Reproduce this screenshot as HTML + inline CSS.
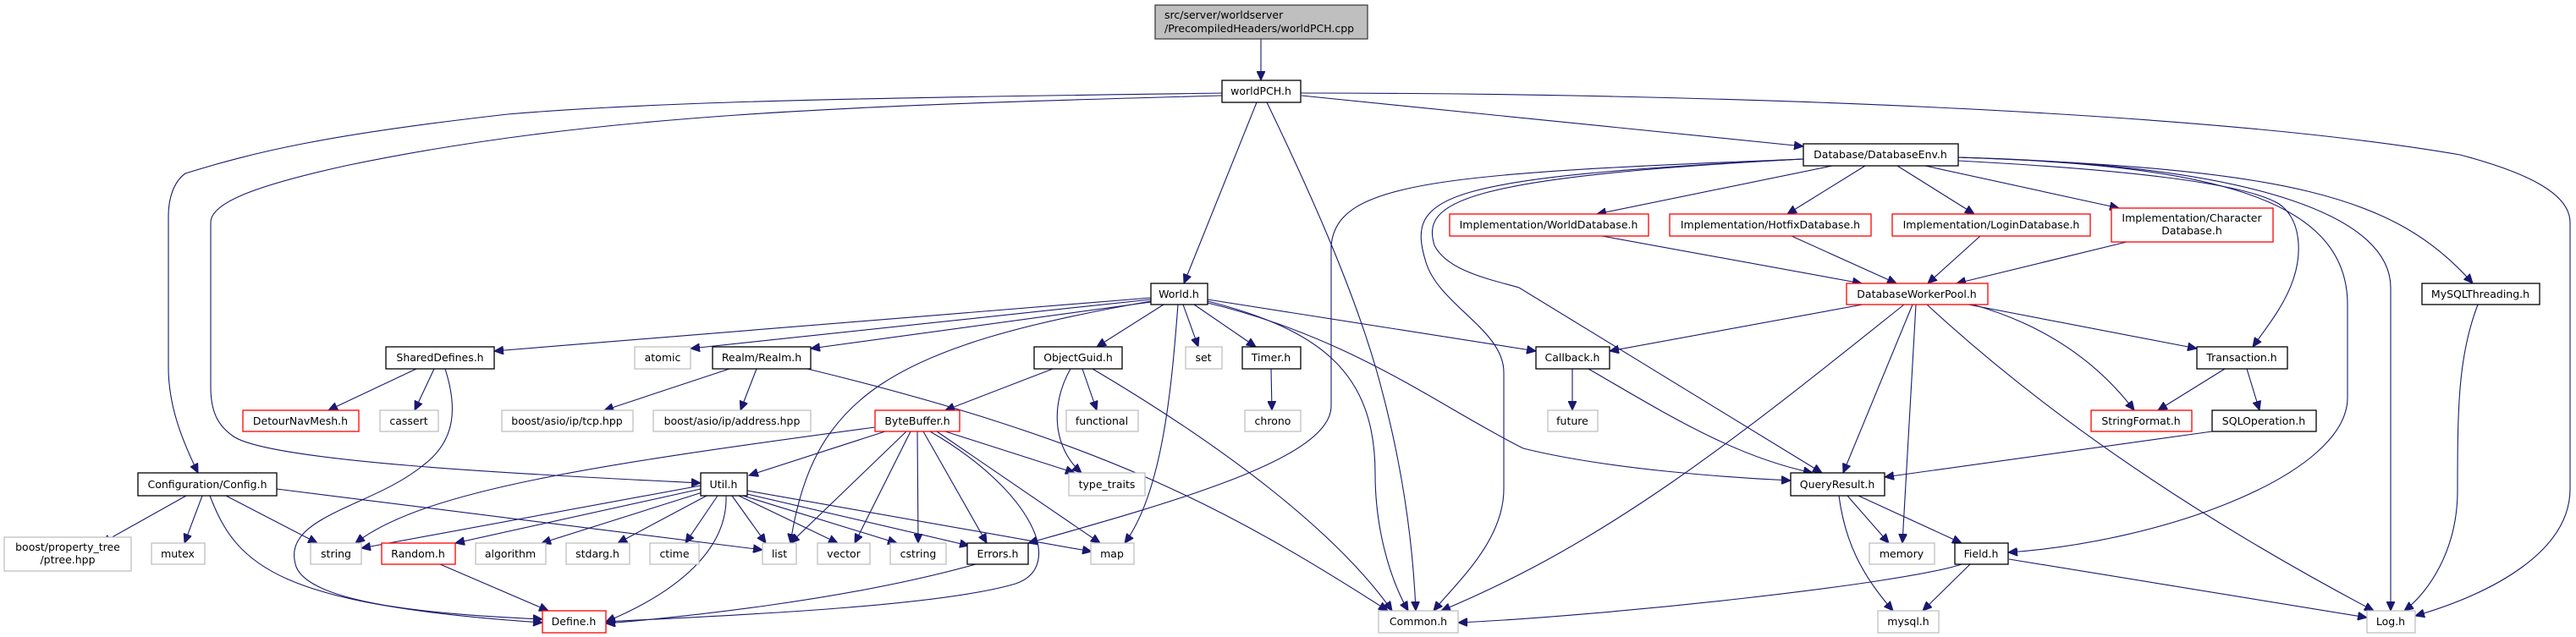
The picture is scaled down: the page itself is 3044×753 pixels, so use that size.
<!DOCTYPE html>
<html><head><meta charset="utf-8"><style>
html,body{margin:0;padding:0;background:#fff;}
svg{display:block;}
text{font-family:"DejaVu Sans","Liberation Sans",sans-serif;font-size:12.5px;fill:#000;}
.b{fill:#fff;stroke:#000;stroke-width:1.3;}
.g{fill:#fff;stroke:#bfbfbf;stroke-width:1.3;}
.r{fill:#fff;stroke:#ff0000;stroke-width:1.3;}
.e path{fill:none;stroke:#191970;stroke-width:1.1;}
</style></head><body>
<svg width="3044" height="753" viewBox="0 0 3044 753" xmlns="http://www.w3.org/2000/svg">
<defs><marker id="a" markerUnits="userSpaceOnUse" markerWidth="12" markerHeight="10" refX="11" refY="5" orient="auto"><path d="M0,0 L11,5 L0,10 Z" fill="#191970" stroke="#191970"/></marker></defs>
<g class="e" marker-end="url(#a)">
<path d="M1490,46 L1490,95" marker-end="url(#a)"/>
<path d="M1444,110 C1100,115 800,118 600,135 C380,160 300,180 219,205 C205,215 199,235 199,255 L199,434 C199,480 215,520 234,559" marker-end="url(#a)"/>
<path d="M1444,113 C1000,125 700,135 408,196 C300,220 249,240 249,263 L249,458 C249,490 260,505 276,516 C320,545 600,560 828,571" marker-end="url(#a)"/>
<path d="M1485,121 L1399,335" marker-end="url(#a)"/>
<path d="M1497,121 C1540,210 1600,340 1630,450 C1660,560 1670,650 1673,722" marker-end="url(#a)"/>
<path d="M1538,113 L2131,173" marker-end="url(#a)"/>
<path d="M1537,110 C2000,110 2600,130 2907,183 C2990,205 3037,230 3037,263 L3037,578 C3037,650 2950,700 2854,728" marker-end="url(#a)"/>
<path d="M2165,196 L1887,253" marker-end="url(#a)"/>
<path d="M2204,196 L2112,253" marker-end="url(#a)"/>
<path d="M2242,196 L2333,253" marker-end="url(#a)"/>
<path d="M2275,196 L2504,246" marker-end="url(#a)"/>
<path d="M2314,190 C2500,200 2650,215 2693,241 C2720,260 2720,300 2710,330 C2700,360 2680,385 2662,410" marker-end="url(#a)"/>
<path d="M2314,186 C2600,195 2774,230 2774,360 L2774,470 C2774,560 2560,640 2373,653" marker-end="url(#a)"/>
<path d="M2314,186 C2680,195 2825,260 2825,340 L2825,722" marker-end="url(#a)"/>
<path d="M2314,186 C2700,200 2830,230 2922,335" marker-end="url(#a)"/>
<path d="M2131,188 C1700,205 1580,215 1573,290 L1573,480 C1573,540 1400,590 1215,642" marker-end="url(#a)"/>
<path d="M2131,188 C1700,210 1660,230 1685,310 C1700,360 1777,390 1777,440 L1777,578 C1777,640 1720,690 1694,722" marker-end="url(#a)"/>
<path d="M2131,188 C1720,210 1680,240 1695,290 C1710,320 1760,330 1795,340 L2153,559" marker-end="url(#a)"/>
<path d="M1893,279 L2200,335" marker-end="url(#a)"/>
<path d="M2117,279 L2241,335" marker-end="url(#a)"/>
<path d="M2340,279 L2278,335" marker-end="url(#a)"/>
<path d="M2513,286 L2312,335" marker-end="url(#a)"/>
<path d="M2201,360 L1902,415" marker-end="url(#a)"/>
<path d="M2250,360 C2050,520 1900,640 1703,722" marker-end="url(#a)"/>
<path d="M2260,360 L2178,559" marker-end="url(#a)"/>
<path d="M2264,360 L2248,642" marker-end="url(#a)"/>
<path d="M2277,360 C2450,520 2650,640 2805,722" marker-end="url(#a)"/>
<path d="M2326,360 L2596,412" marker-end="url(#a)"/>
<path d="M2331,360 C2420,385 2480,430 2522,485" marker-end="url(#a)"/>
<path d="M1858,436 L1858,485" marker-end="url(#a)"/>
<path d="M1502,436 L1503,485" marker-end="url(#a)"/>
<path d="M1877,436 C1970,490 2050,540 2142,559" marker-end="url(#a)"/>
<path d="M2629,436 L2550,485" marker-end="url(#a)"/>
<path d="M2655,436 L2670,485" marker-end="url(#a)"/>
<path d="M2614,510 L2227,564" marker-end="url(#a)"/>
<path d="M2928,360 C2905,420 2904,480 2904,580 C2904,650 2870,700 2841,722" marker-end="url(#a)"/>
<path d="M2183,586 L2232,642" marker-end="url(#a)"/>
<path d="M2196,586 L2318,642" marker-end="url(#a)"/>
<path d="M2173,586 C2180,640 2200,680 2237,722" marker-end="url(#a)"/>
<path d="M2318,667 C2250,690 1900,728 1723,736" marker-end="url(#a)"/>
<path d="M2328,667 L2272,722" marker-end="url(#a)"/>
<path d="M2374,661 L2797,730" marker-end="url(#a)"/>
<path d="M1360,352 L584,415" marker-end="url(#a)"/>
<path d="M1360,354 L816,412" marker-end="url(#a)"/>
<path d="M1360,357 L958,412" marker-end="url(#a)"/>
<path d="M1360,356 C1050,410 960,470 934,642" marker-end="url(#a)"/>
<path d="M1375,360 L1296,410" marker-end="url(#a)"/>
<path d="M1398,360 L1416,410" marker-end="url(#a)"/>
<path d="M1411,360 L1484,410" marker-end="url(#a)"/>
<path d="M1392,360 C1385,450 1375,580 1329,642" marker-end="url(#a)"/>
<path d="M1427,356 C1560,390 1625,440 1625,560 C1625,620 1640,680 1664,722" marker-end="url(#a)"/>
<path d="M1427,354 L1815,415" marker-end="url(#a)"/>
<path d="M1427,358 C1600,400 1700,480 1800,530 C1900,555 2050,565 2116,568" marker-end="url(#a)"/>
<path d="M492,436 L388,485" marker-end="url(#a)"/>
<path d="M513,436 L490,485" marker-end="url(#a)"/>
<path d="M526,436 C540,480 540,520 500,550 C440,600 330,610 350,670 C370,720 560,728 641,732" marker-end="url(#a)"/>
<path d="M862,436 L714,485" marker-end="url(#a)"/>
<path d="M894,436 L875,485" marker-end="url(#a)"/>
<path d="M954,436 C1300,520 1450,600 1640,722" marker-end="url(#a)"/>
<path d="M1244,436 L1117,485" marker-end="url(#a)"/>
<path d="M1279,436 L1296,485" marker-end="url(#a)"/>
<path d="M1265,436 C1240,480 1245,530 1278,559" marker-end="url(#a)"/>
<path d="M1291,436 C1450,530 1580,630 1645,722" marker-end="url(#a)"/>
<path d="M1046,510 L885,562" marker-end="url(#a)"/>
<path d="M1071,510 L934,642" marker-end="url(#a)"/>
<path d="M1076,510 L1010,642" marker-end="url(#a)"/>
<path d="M1084,510 L1085,642" marker-end="url(#a)"/>
<path d="M1091,510 L1166,642" marker-end="url(#a)"/>
<path d="M1107,510 L1300,642" marker-end="url(#a)"/>
<path d="M1117,510 L1270,559" marker-end="url(#a)"/>
<path d="M1034,505 C700,550 500,580 420,642" marker-end="url(#a)"/>
<path d="M1099,510 C1220,580 1260,670 1200,690 C1100,720 800,730 716,735" marker-end="url(#a)"/>
<path d="M828,574 L427,648" marker-end="url(#a)"/>
<path d="M828,578 L538,642" marker-end="url(#a)"/>
<path d="M830,582 L640,642" marker-end="url(#a)"/>
<path d="M835,586 L730,642" marker-end="url(#a)"/>
<path d="M848,586 L810,642" marker-end="url(#a)"/>
<path d="M865,586 L905,642" marker-end="url(#a)"/>
<path d="M873,586 L990,642" marker-end="url(#a)"/>
<path d="M878,586 L1060,642" marker-end="url(#a)"/>
<path d="M883,584 L1145,645" marker-end="url(#a)"/>
<path d="M883,580 L1290,652" marker-end="url(#a)"/>
<path d="M858,586 C860,650 800,700 716,735" marker-end="url(#a)"/>
<path d="M220,586 L120,642" marker-end="url(#a)"/>
<path d="M239,586 L218,642" marker-end="url(#a)"/>
<path d="M267,586 L375,642" marker-end="url(#a)"/>
<path d="M248,586 C280,670 330,715 641,736" marker-end="url(#a)"/>
<path d="M327,578 L901,650" marker-end="url(#a)"/>
<path d="M520,667 L648,722" marker-end="url(#a)"/>
<path d="M1153,667 C1000,710 800,730 716,737" marker-end="url(#a)"/>
</g>
<g>
<rect x="1365" y="6" width="251" height="40" fill="#bfbfbf" stroke="#404040" stroke-width="1.3"/>
<text x="1376" y="22">src/server/worldserver</text>
<text x="1376" y="38">/PrecompiledHeaders/worldPCH.cpp</text>
<rect class="b" x="1444" y="95" width="93" height="26"/><text x="1490" y="112" text-anchor="middle">worldPCH.h</text>
<rect class="b" x="2131" y="170" width="183" height="26"/><text x="2222" y="187" text-anchor="middle">Database/DatabaseEnv.h</text>
<rect class="r" x="1713" y="253" width="235" height="26"/><text x="1830" y="270" text-anchor="middle">Implementation/WorldDatabase.h</text>
<rect class="r" x="1973" y="253" width="238" height="26"/><text x="2092" y="270" text-anchor="middle">Implementation/HotfixDatabase.h</text>
<rect class="r" x="2236" y="253" width="234" height="26"/><text x="2353" y="270" text-anchor="middle">Implementation/LoginDatabase.h</text>
<rect class="r" x="2495" y="246" width="191" height="40"/><text x="2590" y="262" text-anchor="middle">Implementation/Character</text><text x="2590" y="277" text-anchor="middle">Database.h</text>
<rect class="b" x="1360" y="335" width="67" height="25"/><text x="1393" y="352" text-anchor="middle">World.h</text>
<rect class="r" x="2182" y="335" width="167" height="25"/><text x="2265" y="352" text-anchor="middle">DatabaseWorkerPool.h</text>
<rect class="b" x="2862" y="335" width="139" height="25"/><text x="2931" y="352" text-anchor="middle">MySQLThreading.h</text>
<rect class="b" x="456" y="410" width="128" height="26"/><text x="520" y="427" text-anchor="middle">SharedDefines.h</text>
<rect class="g" x="750" y="410" width="66" height="26"/><text x="783" y="427" text-anchor="middle">atomic</text>
<rect class="b" x="842" y="410" width="116" height="26"/><text x="900" y="427" text-anchor="middle">Realm/Realm.h</text>
<rect class="b" x="1222" y="410" width="104" height="26"/><text x="1274" y="427" text-anchor="middle">ObjectGuid.h</text>
<rect class="g" x="1401" y="410" width="43" height="26"/><text x="1422" y="427" text-anchor="middle">set</text>
<rect class="b" x="1468" y="410" width="69" height="26"/><text x="1502" y="427" text-anchor="middle">Timer.h</text>
<rect class="b" x="1815" y="410" width="87" height="26"/><text x="1858" y="427" text-anchor="middle">Callback.h</text>
<rect class="b" x="2596" y="410" width="107" height="26"/><text x="2649" y="427" text-anchor="middle">Transaction.h</text>
<rect class="r" x="287" y="485" width="137" height="25"/><text x="355" y="502" text-anchor="middle">DetourNavMesh.h</text>
<rect class="g" x="449" y="485" width="69" height="25"/><text x="483" y="502" text-anchor="middle">cassert</text>
<rect class="g" x="593" y="485" width="155" height="25"/><text x="670" y="502" text-anchor="middle">boost/asio/ip/tcp.hpp</text>
<rect class="g" x="772" y="485" width="186" height="25"/><text x="865" y="502" text-anchor="middle">boost/asio/ip/address.hpp</text>
<rect class="r" x="1034" y="485" width="100" height="25"/><text x="1084" y="502" text-anchor="middle">ByteBuffer.h</text>
<rect class="g" x="1260" y="485" width="85" height="25"/><text x="1302" y="502" text-anchor="middle">functional</text>
<rect class="g" x="1471" y="485" width="66" height="25"/><text x="1504" y="502" text-anchor="middle">chrono</text>
<rect class="g" x="1829" y="485" width="59" height="25"/><text x="1858" y="502" text-anchor="middle">future</text>
<rect class="r" x="2471" y="485" width="119" height="25"/><text x="2530" y="502" text-anchor="middle">StringFormat.h</text>
<rect class="b" x="2614" y="485" width="123" height="25"/><text x="2675" y="502" text-anchor="middle">SQLOperation.h</text>
<rect class="b" x="163" y="559" width="164" height="27"/><text x="245" y="577" text-anchor="middle">Configuration/Config.h</text>
<rect class="b" x="828" y="559" width="55" height="27"/><text x="855" y="577" text-anchor="middle">Util.h</text>
<rect class="g" x="1263" y="559" width="90" height="27"/><text x="1308" y="577" text-anchor="middle">type_traits</text>
<rect class="b" x="2116" y="559" width="111" height="27"/><text x="2171" y="577" text-anchor="middle">QueryResult.h</text>
<rect class="g" x="5" y="635" width="150" height="40"/><text x="80" y="651" text-anchor="middle">boost/property_tree</text><text x="80" y="666" text-anchor="middle">/ptree.hpp</text>
<rect class="g" x="179" y="642" width="63" height="25"/><text x="210" y="659" text-anchor="middle">mutex</text>
<rect class="g" x="367" y="642" width="60" height="25"/><text x="397" y="659" text-anchor="middle">string</text>
<rect class="r" x="451" y="642" width="87" height="25"/><text x="494" y="659" text-anchor="middle">Random.h</text>
<rect class="g" x="562" y="642" width="83" height="25"/><text x="603" y="659" text-anchor="middle">algorithm</text>
<rect class="g" x="669" y="642" width="75" height="25"/><text x="706" y="659" text-anchor="middle">stdarg.h</text>
<rect class="g" x="768" y="642" width="58" height="25"/><text x="797" y="659" text-anchor="middle">ctime</text>
<rect class="g" x="901" y="642" width="40" height="25"/><text x="921" y="659" text-anchor="middle">list</text>
<rect class="g" x="966" y="642" width="62" height="25"/><text x="997" y="659" text-anchor="middle">vector</text>
<rect class="g" x="1052" y="642" width="66" height="25"/><text x="1085" y="659" text-anchor="middle">cstring</text>
<rect class="b" x="1143" y="642" width="72" height="25"/><text x="1179" y="659" text-anchor="middle">Errors.h</text>
<rect class="g" x="1289" y="642" width="51" height="25"/><text x="1314" y="659" text-anchor="middle">map</text>
<rect class="g" x="2209" y="642" width="77" height="25"/><text x="2247" y="659" text-anchor="middle">memory</text>
<rect class="b" x="2310" y="642" width="63" height="25"/><text x="2341" y="659" text-anchor="middle">Field.h</text>
<rect class="r" x="641" y="722" width="75" height="26"/><text x="678" y="739" text-anchor="middle">Define.h</text>
<rect class="g" x="1629" y="722" width="94" height="26"/><text x="1676" y="739" text-anchor="middle">Common.h</text>
<rect class="g" x="2219" y="722" width="72" height="26"/><text x="2255" y="739" text-anchor="middle">mysql.h</text>
<rect class="g" x="2797" y="722" width="57" height="26"/><text x="2825" y="739" text-anchor="middle">Log.h</text>
</g>
</svg>
</body></html>
